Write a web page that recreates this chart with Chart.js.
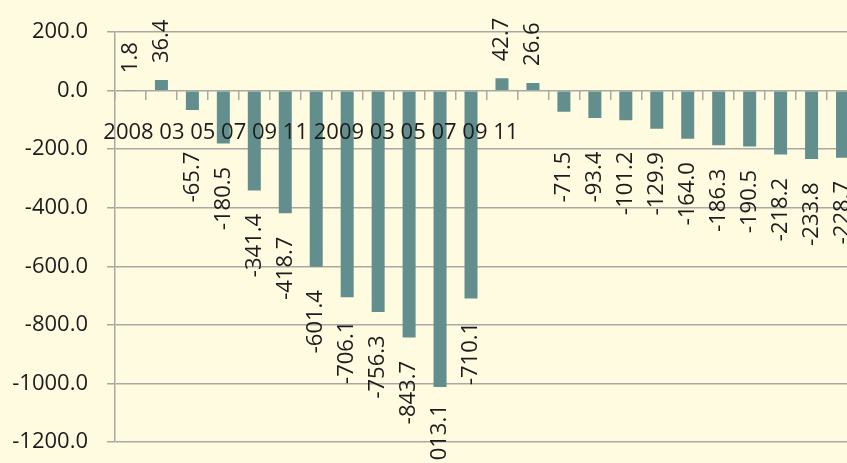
<!DOCTYPE html>
<html><head><meta charset="utf-8">
<script src="https://cdn.jsdelivr.net/npm/chart.js@4.4.1/dist/chart.umd.min.js"></script>
<style>
html,body{margin:0;padding:0;background:#FEFBE0;overflow:hidden;width:847px;height:463px}
#wrap{width:860px;height:474px}
</style></head>
<body><div id="wrap"><canvas id="c" width="860" height="474"></canvas></div>
<script>
const categories = ["2008-01","2008-02","2008-03","2008-04","2008-05","2008-06","2008-07","2008-08","2008-09","2008-10","2008-11","2008-12",
  "2009-01","2009-02","2009-03","2009-04","2009-05","2009-06","2009-07","2009-08","2009-09","2009-10","2009-11","2009-12"];
const values = [1.8, 36.4, -65.7, -180.5, -341.4, -418.7, -601.4, -706.1, -756.3, -843.7, -1013.1, -710.1,
  42.7, 26.6, -71.5, -93.4, -101.2, -129.9, -164.0, -186.3, -190.5, -218.2, -233.8, -228.7];
const axisLabels = ["2008","03","05","07","09","11","2009","03","05","07","09","11"];
const yMin = -1200, yMax = 200, yStep = 200;

const FONT = '"Open Sans", "Noto Sans", sans-serif';
const TEXT = '#1c1c1c';
const GRID = '#a9a9a4';

const labelPlugin = {
  id: 'labelPlugin',
  afterDatasetsDraw(chart) {
    const ctx = chart.ctx;
    const meta = chart.getDatasetMeta(0);
    const xs = chart.scales.x, ys = chart.scales.y;
    const yl = ys.getPixelForValue(0) + 42;   // baseline row of category labels
    const minTop = yl + 19;                      // value labels stay clear of that row
    ctx.save();
    ctx.font = '22px ' + FONT;
    ctx.fillStyle = TEXT;
    ctx.textBaseline = 'middle';
    meta.data.forEach((bar, i) => {
      const v = values[i];
      const txt = v.toFixed(1);
      ctx.save();
      if (v < 0) {
        const half = ctx.measureText(txt).width / 2;
        ctx.translate(bar.x, Math.max(bar.y + 55, minTop + half));
        ctx.textAlign = 'center';
      } else {
        ctx.translate(bar.x, bar.y - 17);
        ctx.textAlign = 'left';
      }
      ctx.rotate(-Math.PI / 2);
      ctx.fillText(txt, 0, 0);
      ctx.restore();
    });
    // category axis labels laid out as a running line of text
    ctx.textAlign = 'left';
    const sp = ctx.measureText(' ').width;
    let x = xs.getPixelForValue(0) - ctx.measureText(axisLabels[0]).width / 2 - 2;
    axisLabels.forEach(t => {
      ctx.fillText(t, x, yl);
      x += ctx.measureText(t).width + sp;
    });
    ctx.restore();
  }
};

new Chart(document.getElementById('c'), {
  type: 'bar',
  data: {
    labels: categories,
    datasets: [{
      data: values,
      backgroundColor: '#628F8D',
      borderWidth: 0,
      categoryPercentage: 1,
      barPercentage: 0.42
    }]
  },
  options: {
    responsive: false,
    animation: false,
    layout: { padding: { left: 0, top: 31, right: 2, bottom: 11 } },
    plugins: { legend: { display: false }, tooltip: { enabled: false } },
    scales: {
      x: {
        type: 'category',
        position: { y: 0 },
        offset: true,
        grid: { offset: true, drawOnChartArea: false, drawTicks: true, tickLength: 9, color: GRID, lineWidth: 1.5 },
        border: { display: false },
        ticks: { display: false, autoSkip: false }
      },
      y: {
        min: yMin, max: yMax,
        afterFit(scale) { scale.width = 115; },
        grid: { color: GRID, lineWidth: 1.5, drawTicks: true, tickLength: 8 },
        border: { display: true, color: GRID, width: 1.5 },
        ticks: {
          stepSize: yStep,
          padding: 19,
          color: TEXT,
          font: { family: FONT, size: 22 },
          callback: v => Number(v).toFixed(1)
        }
      }
    }
  },
  plugins: [labelPlugin]
});
</script>
</body></html>
